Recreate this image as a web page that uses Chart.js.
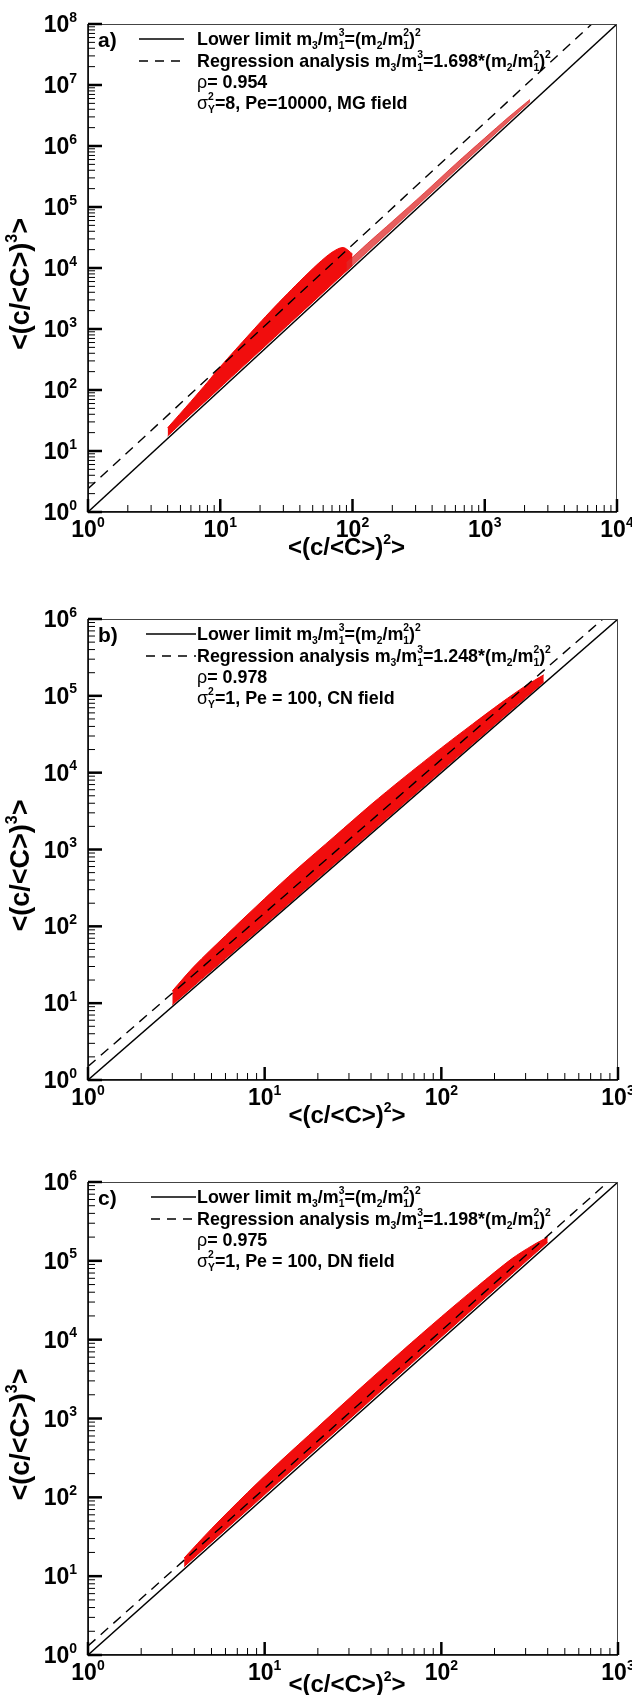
<!DOCTYPE html>
<html>
<head>
<meta charset="utf-8">
<script src="https://cdn.jsdelivr.net/npm/chart.js@4.4.0/dist/chart.umd.min.js"></script>
<style>
  body { margin: 0; background: #fff; width: 632px; height: 1695px; position: relative; overflow: hidden; }
  canvas { position: absolute; left: 0; }
</style>
</head>
<body>
<canvas id="panel-a" width="632" height="565" style="top:0;width:632px;height:565px"></canvas>
<canvas id="panel-b" width="632" height="565" style="top:565px;width:632px;height:565px"></canvas>
<canvas id="panel-c" width="632" height="565" style="top:1130px;width:632px;height:565px"></canvas>
<script>
// ---- Panel a) data: sigma_Y^2=8, Pe=10000, MG field
const aLineX = [1, 10000];
const aLowerY = [1, 100000000];
const aRegX = [1, 6450];
const aRegY = [2.4, 100000000];
const aCloudX = [4, 6, 8, 10, 13, 17, 22, 30, 40, 55, 70, 85, 100];
const aCloudLow = [17.6, 40, 70, 110, 186, 318, 532, 990, 1760, 3330, 5390, 7950, 11000];
const aCloudHigh = [24, 65, 134, 240, 456, 867, 1600, 3240, 6080, 11800, 18100, 21700, 17000];
const aTailX = [90, 130, 200, 350, 600, 1000, 1500, 2200];
const aTailLow = [8900, 18600, 44000, 134750, 396000, 1100000, 2475000, 5320000];
const aTailHigh = [12150, 25350, 58000, 171500, 504000, 1350000, 2925000, 5800000];

// ---- Panel b) data: sigma_Y^2=1, Pe=100, CN field
const bLineX = [1, 1000];
const bLowerY = [1, 1000000];
const bRegX = [1, 822];
const bRegY = [1.5, 1000000];
const bCloudX = [3, 4, 6, 10, 15, 25, 40, 60, 100, 150, 220, 300, 380];
const bCloudLow = [9.5, 17, 38, 105, 236, 656, 1680, 3780, 10500, 23600, 50800, 94500, 151600];
const bCloudHigh = [14.4, 30.4, 75.6, 230, 540, 1500, 3840, 8280, 21000, 42750, 82300, 135000, 187700];

// ---- Panel c) data: sigma_Y^2=1, Pe=100, DN field
const cLineX = [1, 1000];
const cLowerY = [1, 1000000];
const cRegX = [1, 877];
const cRegY = [1.3, 1000000];
const cCloudX = [3.5, 5, 8, 12, 20, 35, 60, 100, 160, 250, 330, 400];
const cCloudLow = [13.2, 27, 69, 156, 432, 1320, 3890, 10800, 27600, 67500, 117600, 172000];
const cCloudHigh = [17, 40, 115, 274, 780, 2450, 7200, 19500, 47400, 106000, 158000, 200000];

const FONT = '"Liberation Sans", Arial, sans-serif';

function zip(xs, ys) {
  return xs.map((x, i) => ({ x: x, y: ys[i] }));
}

function setFont(ctx, size, weight) {
  ctx.font = (weight || 'bold') + ' ' + size + 'px ' + FONT;
}

// draws text made of pieces: [text, kind] with kind n / sub / sup / both / sym
function drawRich(ctx, x, base, parts, size, dry) {
  let cx = x;
  const small = Math.round(size * 0.6);
  parts.forEach(([txt, kind]) => {
    if (kind === 'sub' || kind === 'sup') {
      setFont(ctx, small);
      const dy = kind === 'sub' ? size * 0.22 : -size * 0.45;
      if (!dry) ctx.fillText(txt, cx, base + dy);
      cx += ctx.measureText(txt).width;
    } else if (kind === 'both') {
      setFont(ctx, small);
      if (!dry) {
        ctx.fillText(txt[0], cx, base + size * 0.22);
        ctx.fillText(txt[1], cx, base - size * 0.45);
      }
      cx += Math.max(ctx.measureText(txt[0]).width, ctx.measureText(txt[1]).width);
    } else {
      setFont(ctx, size, kind === 'sym' ? 'normal' : 'bold');
      if (!dry) ctx.fillText(txt, cx, base);
      cx += ctx.measureText(txt).width;
    }
  });
  return cx - x;
}

function legendRows(coef, rho, sigma, pe, field) {
  return [
    [['Lower limit m', 'n'], ['3', 'sub'], ['/m', 'n'], [['1', '3'], 'both'], ['=(m', 'n'], ['2', 'sub'],
     ['/m', 'n'], [['1', '2'], 'both'], [')', 'n'], ['2', 'sup']],
    [['Regression analysis m', 'n'], ['3', 'sub'], ['/m', 'n'], [['1', '3'], 'both'], ['=' + coef + '*(m', 'n'],
     ['2', 'sub'], ['/m', 'n'], [['1', '2'], 'both'], [')', 'n'], ['2', 'sup']],
    [['ρ', 'sym'], ['= ' + rho, 'n']],
    [['σ', 'sym'], [['Y', '2'], 'both'], ['=' + sigma + ', ' + pe + ', ' + field, 'n']]
  ];
}

const decorPlugin = {
  id: 'decor',
  afterDraw(chart, args, opts) {
    const { ctx, chartArea: a, scales: { x, y } } = chart;
    ctx.save();
    ctx.fillStyle = '#000';
    ctx.textBaseline = 'alphabetic';

    // frame
    ctx.strokeStyle = '#444';
    ctx.lineWidth = 1;
    ctx.strokeRect(a.left + 0.5, a.top + 0.5, a.right - a.left - 1, a.bottom - a.top - 1);
    ctx.strokeStyle = '#000';
    ctx.lineWidth = 1.5;
    ctx.beginPath();
    ctx.moveTo(a.left, a.top);
    ctx.lineTo(a.left, a.bottom);
    ctx.lineTo(a.right, a.bottom);
    ctx.stroke();

    // ticks, inward, major + minor
    const xE = Math.round(Math.log10(x.max));
    const yE = Math.round(Math.log10(y.max));
    for (let e = 0; e <= xE; e++) {
      const px = x.getPixelForValue(Math.pow(10, e));
      ctx.lineWidth = 2.5;
      ctx.beginPath(); ctx.moveTo(px, a.bottom); ctx.lineTo(px, a.bottom - 13); ctx.stroke();
      if (e < xE) {
        ctx.lineWidth = 1;
        for (let m = 2; m <= 9; m++) {
          const mx = x.getPixelForValue(m * Math.pow(10, e));
          ctx.beginPath(); ctx.moveTo(mx, a.bottom); ctx.lineTo(mx, a.bottom - 7); ctx.stroke();
        }
      }
      const lab = [['10', 'n'], [String(e), 'sup']];
      const wMain = drawRich(ctx, 0, 0, lab, 23, true);
      drawRich(ctx, px - wMain / 2, a.bottom + 25, lab, 23);
    }
    for (let e = 0; e <= yE; e++) {
      const py = y.getPixelForValue(Math.pow(10, e));
      ctx.lineWidth = 2.5;
      ctx.beginPath(); ctx.moveTo(a.left, py); ctx.lineTo(a.left + 14, py); ctx.stroke();
      if (e < yE) {
        ctx.lineWidth = 1;
        for (let m = 2; m <= 9; m++) {
          const my = y.getPixelForValue(m * Math.pow(10, e));
          ctx.beginPath(); ctx.moveTo(a.left, my); ctx.lineTo(a.left + 7, my); ctx.stroke();
        }
      }
      const lab = [['10', 'n'], [String(e), 'sup']];
      const w = drawRich(ctx, 0, 0, lab, 23, true);
      drawRich(ctx, a.left - 11 - w, py + 8, lab, 23);
    }

    // axis titles
    const xt = [['<(c/<C>)', 'n'], ['2', 'sup'], ['>', 'n']];
    const wx = drawRich(ctx, 0, 0, xt, 24, true);
    drawRich(ctx, (a.left + a.right) / 2 - wx / 2 - 6, a.bottom + opts.titleGap, xt, 24);
    const yt = [['<(c/<C>)', 'n'], ['3', 'sup'], ['>', 'n']];
    const wy = drawRich(ctx, 0, 0, yt, 27, true);
    ctx.save();
    ctx.translate(29, (a.top + a.bottom) / 2 + 16);
    ctx.rotate(-Math.PI / 2);
    drawRich(ctx, -wy / 2, 0, yt, 27);
    ctx.restore();

    // legend block
    const rowY = [15, 37, 58, 79].map(d => a.top + d);
    setFont(ctx, 21);
    ctx.fillText(opts.letter, 98, rowY[0] + 8);
    ctx.lineWidth = 1.3;
    ctx.beginPath(); ctx.moveTo(opts.sample[0], rowY[0]); ctx.lineTo(opts.sample[1], rowY[0]); ctx.stroke();
    ctx.setLineDash([9, 7]);
    ctx.beginPath(); ctx.moveTo(opts.sample[0], rowY[1]); ctx.lineTo(opts.sample[1], rowY[1]); ctx.stroke();
    ctx.setLineDash([]);
    opts.rows.forEach((parts, i) => {
      ctx.save();
      ctx.translate(opts.textX, rowY[i] + 6);
      ctx.scale(0.94, 1);
      drawRich(ctx, 0, 0, parts, 19);
      ctx.restore();
    });
    ctx.restore();
  }
};

function makePanel(id, cfg) {
  const ctx = document.getElementById(id).getContext('2d');
  const datasets = [
    {
      data: zip(cfg.lineX, cfg.lowerY), showLine: true, borderColor: '#000', borderWidth: 1.4,
      pointRadius: 0, fill: false, order: 0
    },
    {
      data: zip(cfg.regX, cfg.regY), showLine: true, borderColor: '#000', borderWidth: 1.4,
      borderDash: [10, 7], pointRadius: 0, fill: false, order: 0
    }
  ];
  cfg.clouds.forEach(c => {
    datasets.push({
      data: zip(c.x, c.high), showLine: true, borderColor: c.color, borderWidth: 1,
      backgroundColor: c.color, pointRadius: 0, fill: '+1', order: 2, tension: 0.3
    });
    datasets.push({
      data: zip(c.x, c.low), showLine: true, borderColor: c.color, borderWidth: 1,
      pointRadius: 0, fill: false, order: 2, tension: 0.3
    });
  });

  new Chart(ctx, {
    type: 'scatter',
    data: { datasets: datasets },
    options: {
      responsive: false,
      animation: false,
      devicePixelRatio: 1,
      layout: { padding: cfg.padding },
      plugins: {
        legend: { display: false },
        tooltip: { enabled: false },
        decor: { letter: cfg.letter, rows: cfg.rows, sample: cfg.sample, textX: 197, titleGap: cfg.titleGap }
      },
      scales: {
        x: { type: 'logarithmic', min: 1, max: cfg.xMax, display: false },
        y: { type: 'logarithmic', min: 1, max: cfg.yMax, display: false }
      }
    },
    plugins: [decorPlugin]
  });
}

makePanel('panel-a', {
  letter: 'a)', xMax: 10000, yMax: 100000000, titleGap: 43,
  padding: { left: 88, right: 15, top: 24, bottom: 53 },
  lineX: aLineX, lowerY: aLowerY, regX: aRegX, regY: aRegY,
  clouds: [
    { x: aTailX, low: aTailLow, high: aTailHigh, color: 'rgba(222,40,40,0.75)' },
    { x: aCloudX, low: aCloudLow, high: aCloudHigh, color: 'rgba(240,0,0,0.95)' }
  ],
  sample: [139, 184],
  rows: legendRows('1.698', '0.954', '8', 'Pe=10000', 'MG field')
});

makePanel('panel-b', {
  letter: 'b)', xMax: 1000, yMax: 1000000, titleGap: 43,
  padding: { left: 88, right: 14, top: 54, bottom: 50 },
  lineX: bLineX, lowerY: bLowerY, regX: bRegX, regY: bRegY,
  clouds: [
    { x: bCloudX, low: bCloudLow, high: bCloudHigh, color: 'rgba(240,0,0,0.95)' }
  ],
  sample: [146, 196],
  rows: legendRows('1.248', '0.978', '1', 'Pe = 100', 'CN field')
});

makePanel('panel-c', {
  letter: 'c)', xMax: 1000, yMax: 1000000, titleGap: 37,
  padding: { left: 88, right: 14, top: 52, bottom: 40 },
  lineX: cLineX, lowerY: cLowerY, regX: cRegX, regY: cRegY,
  clouds: [
    { x: cCloudX, low: cCloudLow, high: cCloudHigh, color: 'rgba(240,0,0,0.95)' }
  ],
  sample: [151, 196],
  rows: legendRows('1.198', '0.975', '1', 'Pe = 100', 'DN field')
});
</script>
</body>
</html>
